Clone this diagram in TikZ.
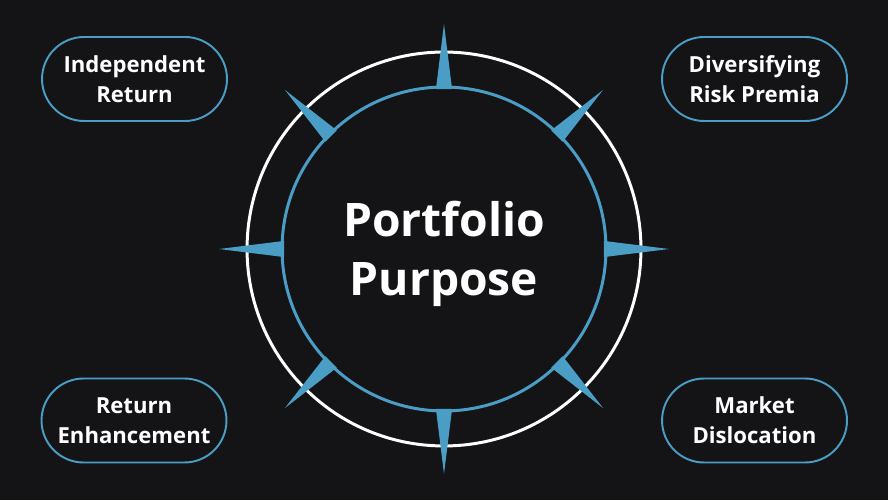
\documentclass[tikz,border=0pt]{standalone}
\usepackage{fontspec}
\setmainfont{Open Sans}
\usetikzlibrary{positioning}

\definecolor{bg}{HTML}{141417}
\definecolor{steel}{HTML}{4A9EC5}

\begin{document}
\begin{tikzpicture}[x=0.02cm, y=0.02cm,
  pill/.style = {draw=steel, line width=1.1pt, fill=bg, rounded corners=0.84cm,
    minimum width=3.7cm, minimum height=1.68cm, align=center, text=white,
    font=\bfseries\fontsize{12.6}{17}\selectfont},
  title/.style = {text=white, align=center, font=\bfseries\fontsize{26.3}{33.5}\selectfont},
  spike/.style = {fill=steel}]
  \fill[bg] (0,0) rectangle (888,500);
  \coordinate (c) at (444,251);

  % rings
  \draw[white, line width=1.7pt] (c) circle (3.94cm);
  \draw[steel, line width=1.7pt] (c) circle (3.24cm);

  % compass spikes
  \foreach \a in {0,45,...,315}
    \fill[spike, shift={(c)}] (\a-2.9:160) -- (\a:225) -- (\a+2.9:160) -- cycle;

  \node[title] (purpose) at (444,246) {Portfolio\\Purpose};

  \node[pill] (indep) at (134.5,421) {Independent\\Return};
  \node[pill] (divers) at (754.5,421) {Diversifying\\Risk Premia};
  \node[pill] (enhance) at (134,79.5) {Return\\Enhancement};
  \node[pill] (disloc) at (754.5,79.5) {Market\\Dislocation};
\end{tikzpicture}
\end{document}
